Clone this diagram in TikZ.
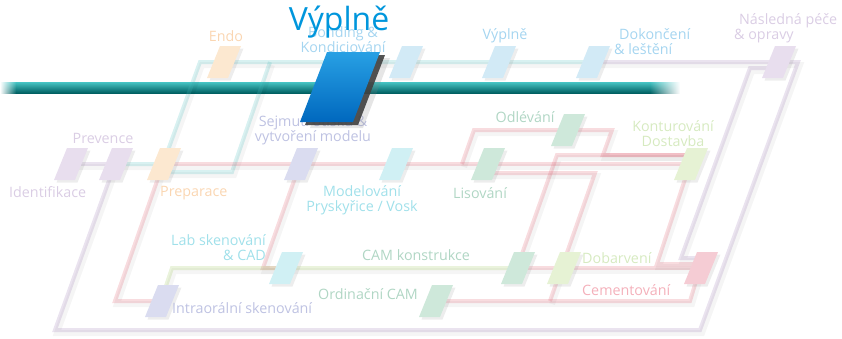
\documentclass[tikz,border=0pt]{standalone}
\usepackage{fontspec}
\setmainfont{Open Sans}
\usetikzlibrary{shadows,fadings}

% station fills
\definecolor{stpurp}{RGB}{232,222,238}
\definecolor{storng}{RGB}{252,232,208}
\definecolor{stblue}{RGB}{210,234,246}
\definecolor{stlav}{RGB}{218,220,240}
\definecolor{stcyan}{RGB}{208,240,244}
\definecolor{stgrn}{RGB}{206,232,218}
\definecolor{stygrn}{RGB}{230,242,212}
\definecolor{stred}{RGB}{245,204,212}
% routes (drawn with opacity)
\definecolor{rteal}{RGB}{72,188,188}
\definecolor{rred}{RGB}{222,88,105}
\definecolor{rpurp}{RGB}{155,122,178}
\definecolor{rgrn}{RGB}{155,198,88}
% labels
\definecolor{lpurp}{RGB}{218,205,228}
\definecolor{lorng}{RGB}{250,214,178}
\definecolor{lblue}{RGB}{165,213,240}
\definecolor{llav}{RGB}{190,194,226}
\definecolor{lcyan}{RGB}{160,224,234}
\definecolor{lgrn}{RGB}{176,214,196}
\definecolor{lygrn}{RGB}{214,234,192}
\definecolor{lred}{RGB}{244,176,186}
% bar and big station
\definecolor{barhi}{RGB}{70,196,196}
\definecolor{barmid}{RGB}{0,150,150}
\definecolor{barlo}{RGB}{0,96,98}
\definecolor{blhi}{RGB}{40,160,228}
\definecolor{bllo}{RGB}{0,104,190}
\definecolor{ttlblue}{RGB}{0,150,220}

\tikzfading[name=barin, left color=transparent!100, right color=transparent!0]
\tikzfading[name=barout, left color=transparent!0, right color=transparent!100]

\pgfdeclarelayer{bar}
\pgfdeclarelayer{routes}
\pgfsetlayers{bar,routes,main}

\begin{document}
\begin{tikzpicture}[x=1pt, y=-1pt, line join=round,
  stshadow/.style={drop shadow={shadow xshift=2.5pt, shadow yshift=-2.5pt, opacity=.14}},
  route/.style={line width=4pt, draw opacity=.21,
    preaction={draw=black, draw opacity=.04, line width=6pt,
      transform canvas={shift={(2pt,-3pt)}}}},
  lbl/.style={font=\fontsize{14.3}{15}\selectfont, inner sep=0pt, align=center}]
\useasboundingbox (0,0) rectangle (842,338);

\foreach \n/\x/\y/\c in {iden/70/164/stpurp, prev/115/164/stpurp, prep/163/164/storng,
  endo/223/62/storng, bond/405/62/stblue, vypl/498/62/stblue, dokon/592/62/stblue,
  nasl/778/62/stpurp, sejm/300/164/stlav, model/395/164/stcyan, lis/487/164/stgrn,
  odl/567/130/stgrn, kont/690/164/stygrn, lab/285/268/stcyan, intra/161/301/stlav,
  cam/517/268/stgrn, ord/435/301/stgrn, dobar/563/268/stygrn, cem/700/268/stred}{
  \coordinate (\n) at (\x,\y);
  \fill[\c, stshadow] (\n) ++(-3,-16) -- ++(21,0) -- ++(-13,32) -- ++(-21,0) -- cycle;
}

\begin{pgfonlayer}{bar}
\shade[top color=white, middle color=black!30, bottom color=white] (18,92) rectangle (650,110);
\shade[top color=barhi, middle color=barmid, bottom color=barlo] (16,82) rectangle (650,93);
\shade[top color=barhi, middle color=barmid, bottom color=barlo, path fading=barin] (0,82) rectangle (16,93);
\shade[top color=barhi, middle color=barmid, bottom color=barlo, path fading=barout] (650,82) rectangle (680,93);
\end{pgfonlayer}

\begin{pgfonlayer}{routes}
\coordinate (tA) at (200,62);
\coordinate (tB) at (270,62);
\coordinate (tC) at (232,172);
\draw[route, draw=rteal] (prev) -- (prep) -- (tA) -- (dokon);
\draw[route, draw=rteal] (tB) -- (tC) -- (tC -| prep);

\coordinate (pA) at (798,62);
\coordinate (pB) at (700,330);
\coordinate (pC) at (55,330);
\coordinate (pD) at (750,68);
\coordinate (pE) at (681,258);
\draw[route, draw=rpurp] (iden) -- (prev);
\draw[route, draw=rpurp] (dokon) -- (pA) -- (pB) -- (pC) -- (prev);
\draw[route, draw=rpurp] ([yshift=-6pt]nasl) -- (pD) -- (pE) -- (pE -| cem);

\coordinate (rA) at (462,164);
\coordinate (rB) at (474,130);
\coordinate (rC) at (612,130);
\coordinate (rD) at (603,155);
\coordinate (rE) at (557,155);
\coordinate (rF) at (595,173);
\coordinate (rG) at (550,301);
\coordinate (rH) at (690,301);
\coordinate (rI) at (657,264);
\coordinate (rJ) at (115,301);
\coordinate (rK) at (263,268);
\draw[route, draw=rred] (prep) -- (kont);
\draw[route, draw=rred] (rA) -- (rB) -- (odl) -- (rC) -- (rD) -- (rD -| kont);
\draw[route, draw=rred] (cam) -- (rE) -- (rE -| kont);
\draw[route, draw=rred] ([yshift=-9pt]lis) -- (rF) -- (rG);
\draw[route, draw=rred] (ord) -- (rH) -- (cem);
\draw[route, draw=rred] (cam) -- (dobar) -- (cem);
\draw[route, draw=rred] (kont) -- (rI) -- (rI -| cem);
\draw[route, draw=rred] (prep) -- (rJ) -- (intra);
\draw[route, draw=rred] (sejm) -- (rK) -- (lab);

\coordinate (gA) at (172,268);
\draw[route, draw=rgrn] (intra) -- (gA) -- (cam);
\end{pgfonlayer}

\node[lbl, text=lpurp, anchor=west] (tiden) at (9,192) {Identifikace};
\node[lbl, text=lpurp] (tprev) at (103,138) {Prevence};
\node[lbl, text=lorng, anchor=west] (tprep) at (160,193) {Preparace};
\node[lbl, text=lorng] (tendo) at (226,36) {Endo};
\node[lbl, text=lblue] (tbond) at (343,40) {Bonding \&\\Kondiciování};
\node[lbl, text=lblue] (tvypl) at (505,36) {Výplně};
\node[lbl, text=lblue, align=left, anchor=west] (tdokon) at (614,42) {\hspace{5pt}Dokončení\\\& leštění};
\node[lbl, text=lpurp, align=left, anchor=west] (tnasl) at (734,28) {\hspace{5pt}Následná péče\\\& opravy};
\node[lbl, text=llav] (tsejm) at (313,130) {Sejmutí otisku \&\\vytvoření modelu};
\node[lbl, text=lcyan] (tmodel) at (362,200) {Modelování\\Pryskyřice / Vosk};
\node[lbl, text=lgrn] (tlis) at (480,193) {Lisování};
\node[lbl, text=lgrn] (todl) at (525,117) {Odlévání};
\node[lbl, text=lygrn] (tkont) at (673,134) {Konturování\\Dostavba};
\node[lbl, text=lcyan, align=right, anchor=east] (tlab) at (266,248) {Lab skenování\\\& CAD};
\node[lbl, text=llav, anchor=west] (tintra) at (172,308) {Intraorální skenování};
\node[lbl, text=lgrn] (tcam) at (416,255) {CAM konstrukce};
\node[lbl, text=lgrn] (tord) at (368,294) {Ordinační CAM};
\node[lbl, text=lygrn, anchor=west] (tdobar) at (582,258) {Dobarvení};
\node[lbl, text=lred, anchor=west] (tcem) at (582,290) {Cementování};

% highlighted station
\coordinate (big) at (340,87);
\shade[top color=blhi, bottom color=bllo,
  drop shadow={shadow xshift=10pt, shadow yshift=-6pt, opacity=.2},
  drop shadow={shadow xshift=5pt, shadow yshift=-3pt, fill=black!75, opacity=.9}]
  (big) ++(-13,-35) -- ++(53,0) -- ++(-27,70) -- ++(-53,0) -- cycle;
\node[text=ttlblue, font=\fontsize{32}{32}\selectfont, inner sep=0pt] (ttl) at (339,22) {Výplně};
\end{tikzpicture}
\end{document}
